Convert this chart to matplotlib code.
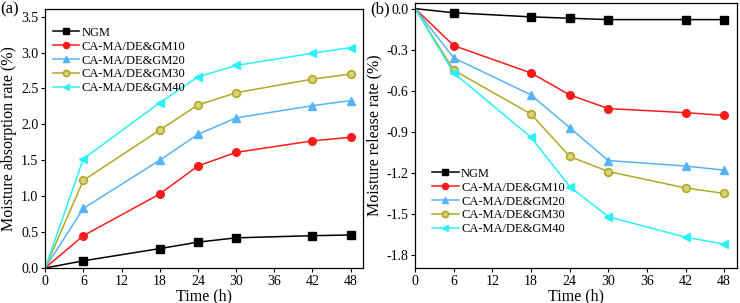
import numpy as np
import matplotlib.pyplot as plt

plt.rcParams['font.family'] = ['Liberation Serif', 'DejaVu Serif']

time = [0, 6, 18, 24, 30, 42, 48]
labels = ['NGM', 'CA-MA/DE&GM10', 'CA-MA/DE&GM20', 'CA-MA/DE&GM30', 'CA-MA/DE&GM40']

# moisture absorption (%)
abs_ngm = [0, 0.10, 0.27, 0.36, 0.42, 0.45, 0.46]
abs_gm10 = [0, 0.45, 1.03, 1.42, 1.61, 1.77, 1.82]
abs_gm20 = [0, 0.83, 1.50, 1.86, 2.09, 2.26, 2.33]
abs_gm30 = [0, 1.22, 1.92, 2.27, 2.44, 2.63, 2.70]
abs_gm40 = [0, 1.52, 2.30, 2.66, 2.82, 2.99, 3.07]

# moisture release (%)
rel_ngm = [0, -0.03, -0.06, -0.07, -0.08, -0.08, -0.08]
rel_gm10 = [0, -0.27, -0.47, -0.63, -0.73, -0.76, -0.78]
rel_gm20 = [0, -0.36, -0.63, -0.87, -1.11, -1.15, -1.18]
rel_gm30 = [0, -0.45, -0.77, -1.08, -1.19, -1.31, -1.35]
rel_gm40 = [0, -0.47, -0.94, -1.30, -1.52, -1.67, -1.72]

colors = ['black', '#ff1a1a', '#55b4f5', '#b2a823', '#29f1f5']
markers = ['s', 'o', '^', 'o', '<']


def draw(ax, series):
    for i, y in enumerate(series):
        kw = dict(color=colors[i], marker=markers[i], markersize=5.5, lw=1.1,
                  label=labels[i], markevery=list(range(1, len(time))))
        if i == 3:
            kw.update(markerfacecolor='#d8d27a', markeredgecolor=colors[i], markeredgewidth=1.2)
        ax.plot(time, y, **kw)
    ax.set_xlim(0, 50)
    ax.set_xticks(range(0, 49, 6))
    ax.set_xlabel('Time (h)', fontsize=11.5, labelpad=0)
    ax.tick_params(labelsize=10, length=3, width=0.8, direction='out', pad=2)
    for s in ax.spines.values():
        s.set_linewidth(0.9)


def legend(ax, loc, anchor):
    ax.legend(frameon=False, fontsize=9, handlelength=2.1, labelspacing=0.15,
              handletextpad=0.2, borderaxespad=0.2, markerscale=0.8,
              loc=loc, bbox_to_anchor=anchor)


fig = plt.figure(figsize=(7.4, 3.03), dpi=100)

ax1 = fig.add_axes([0.061, 0.1155, 0.43, 0.855])
draw(ax1, [abs_ngm, abs_gm10, abs_gm20, abs_gm30, abs_gm40])
ax1.set_ylim(0, 3.607)
ax1.set_yticks(np.arange(0, 3.51, 0.5))
ax1.set_yticklabels([f'{v:.1f}' for v in np.arange(0, 3.51, 0.5)])
ax1.set_ylabel('Moisture absorption rate (%)', fontsize=11.5, labelpad=3)
legend(ax1, 'upper left', (0.0, 0.96))
fig.text(0.0, 0.955, '(a)', fontsize=12)

ax2 = fig.add_axes([0.561, 0.1155, 0.435, 0.874])
draw(ax2, [rel_ngm, rel_gm10, rel_gm20, rel_gm30, rel_gm40])
ax2.set_ylim(-1.895, 0.04)
yt = [0.0, -0.3, -0.6, -0.9, -1.2, -1.5, -1.8]
ax2.set_yticks(yt)
ax2.set_yticklabels([f'{v:.1f}' for v in yt])
ax2.set_ylabel('Moisture release rate (%)', fontsize=11.5, labelpad=3)
legend(ax2, 'lower left', (0.03, 0.095))
fig.text(0.5, 0.955, '(b)', fontsize=12)

fig.savefig('out.png', dpi=100)
